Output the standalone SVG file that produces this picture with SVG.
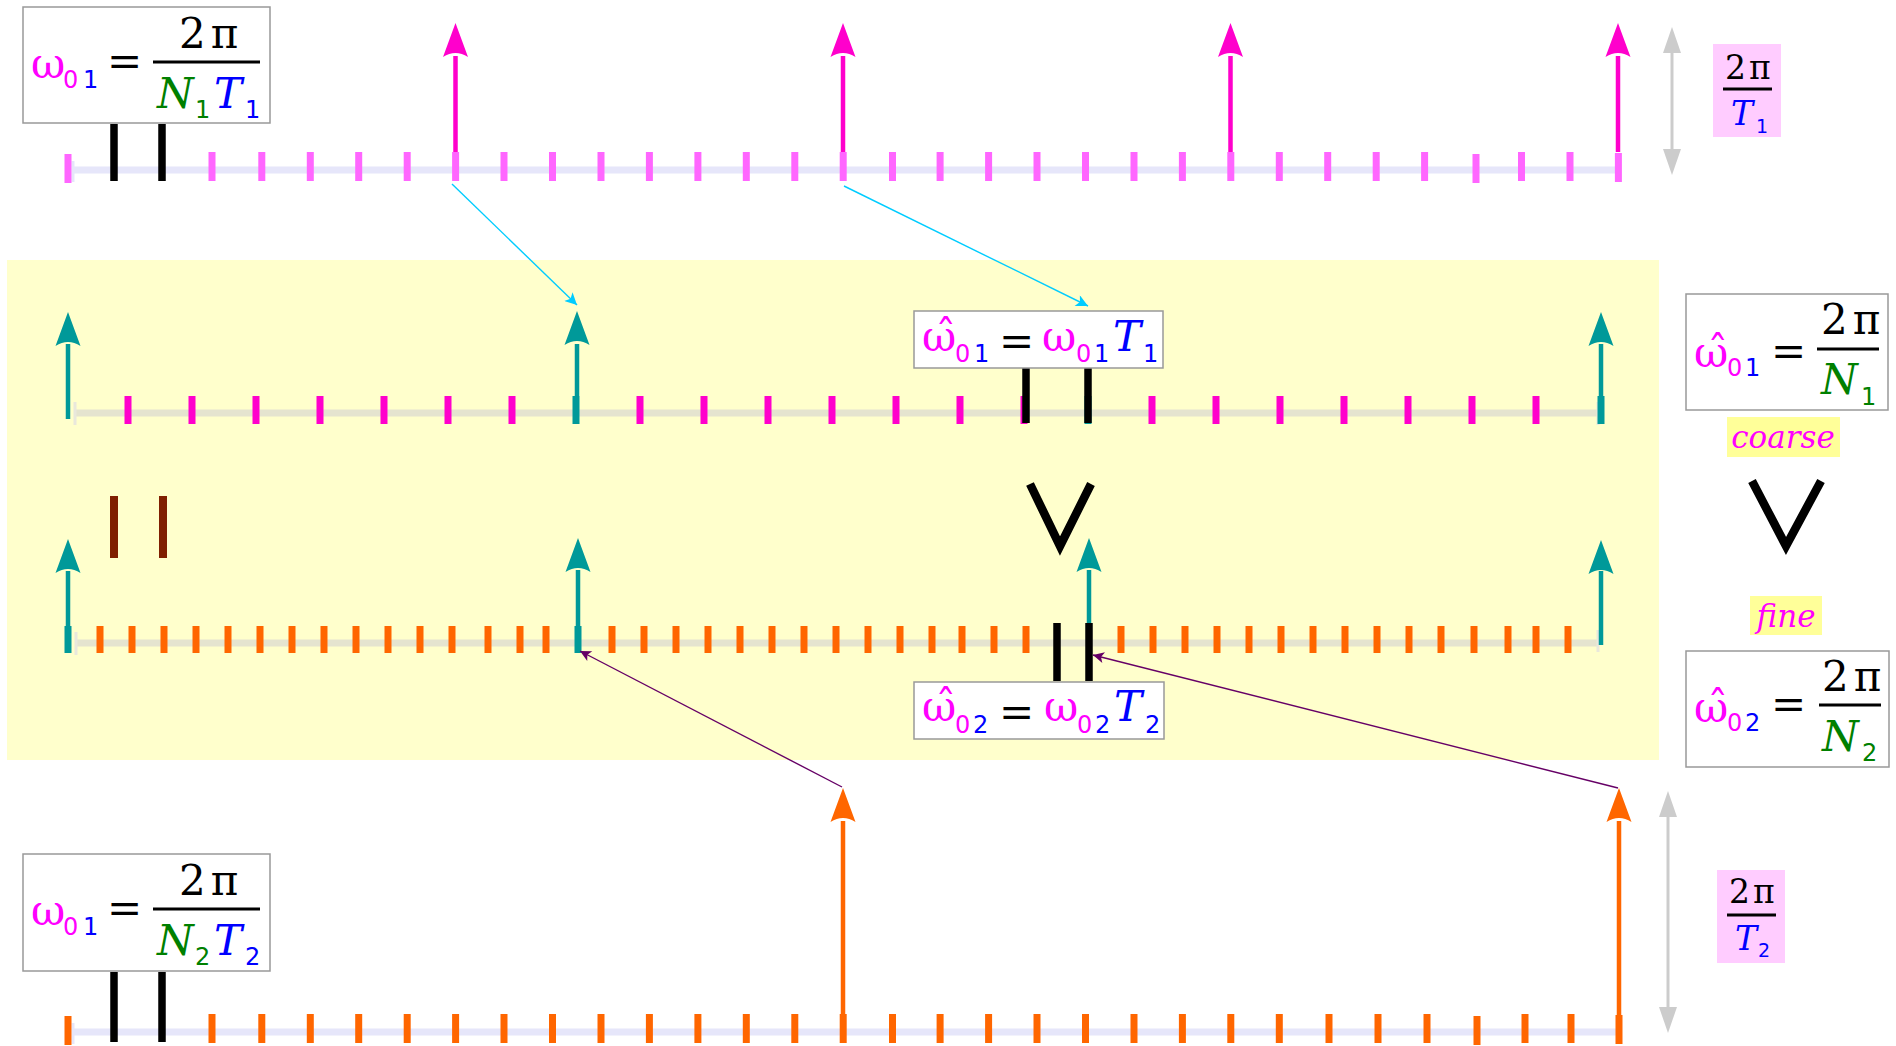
<svg xmlns="http://www.w3.org/2000/svg" xmlns:xlink="http://www.w3.org/1999/xlink" width="1896" height="1046" viewBox="0 0 1896 1046">
  <style>
    .m{font-family:"DejaVu Serif",serif;font-size:42px}
    .mp{font-family:"DejaVu Serif",serif;font-size:33px}
    .it{font-style:italic}
    .s{font-family:"DejaVu Sans",sans-serif;font-size:24px}
    .sp{font-family:"DejaVu Sans",sans-serif;font-size:19px}
    .lbl{font-family:"DejaVu Serif",serif;font-size:31px;font-style:italic;fill:#ff00ff}
    .pk{fill:#ff00ff}.bl{fill:#0000ff}.gr{fill:#008000}.bk{fill:#000}
    .box{fill:#fff;stroke:#999;stroke-width:1.5}
    .bar{stroke:#000;stroke-width:3}
    .axL{stroke:#e6e6fa;stroke-width:7;fill:none}
    .axY{stroke:#e5e4cf;stroke-width:7;fill:none}
    .capL{stroke:#e6e6fa;stroke-width:3;fill:none}
    .capY{stroke:#e9e8dc;stroke-width:3;fill:none}
    .t1{stroke:#ff66ff;stroke-width:7;fill:none}
    .t2{stroke:#ff00cc;stroke-width:7;fill:none}
    .to{stroke:#ff6600;stroke-width:7;fill:none}
    .tt{stroke:#009999;stroke-width:7;fill:none}
    .blk{stroke:#000;stroke-width:7.5;fill:none}
    .brn{stroke:#7f1f00;stroke-width:8;fill:none}
    .sh{stroke-width:4.5;fill:none}
    .vee{stroke:#000;stroke-width:8.5;fill:none;stroke-linejoin:miter}
    .grey{stroke:#cccccc;stroke-width:3;fill:none}
    .cy{stroke:#00ccff;stroke-width:1.4;fill:none;marker-end:url(#mcy)}
    .pu{stroke:#660066;stroke-width:1.4;fill:none;marker-end:url(#mpu)}
  </style>
  <defs>
    <!-- upward arrowhead with concave back, tip at origin -->
    <path id="hd" d="M0,0 L12.5,34 Q0,26 -12.5,34 Z"/>
    <!-- plain triangle head for the range arrows -->
    <path id="gh" d="M0,0 L9,26 L-9,26 Z" fill="#cccccc"/>
    <marker id="mcy" viewBox="0 0 10 10" refX="10" refY="5" markerWidth="17" markerHeight="12" markerUnits="userSpaceOnUse" orient="auto">
      <path d="M0,0 L10,5 L0,10 L2.5,5 Z" fill="#00ccff"/>
    </marker>
    <marker id="mpu" viewBox="0 0 10 10" refX="10" refY="5" markerWidth="15" markerHeight="11" markerUnits="userSpaceOnUse" orient="auto">
      <path d="M0,0 L10,5 L0,10 L2.5,5 Z" fill="#660066"/>
    </marker>
  </defs>

  <rect width="1896" height="1046" fill="#fff"/>
  <!-- shaded band holding the two normalised axes -->
  <rect id="band" x="7" y="260" width="1652" height="500" fill="#ffffcc"/>

  <!-- axis 1: spacing 2pi/(N1 T1) -->
  <g id="axis1">
    <path class="axL" d="M72,170H1618"/>
    <path class="capL" d="M73,161V182"/>
    <path class="t1" d="M68,154v29M212,152v29M261.8,152v29M310.3,152v29M358.7,152v29M407.2,152v29M455.6,152v29M504,152v29M552.5,152v29M601,152v29M649.4,152v29M697.9,152v29M746.3,152v29M794.8,152v29M843.2,152v29M892.5,152v29M940.1,152v29M988.6,152v29M1037,152v29M1085.5,152v29M1134,152v29M1182.4,152v29M1230.8,152v29M1279.3,152v29M1327.7,152v29M1376.2,152v29M1424.6,152v29M1476,154v29M1521.5,152v29M1570,152v29M1618.4,153v29"/>
    <path class="blk" d="M114,124V181M162,124V181"/>
    <g fill="#ff00cc">
      <path class="sh" stroke="#ff00cc" d="M455.5,152V56M843,152V56M1230.5,152V56M1618,152V56"/>
      <use xlink:href="#hd" x="455.5" y="23"/>
      <use xlink:href="#hd" x="843" y="23"/>
      <use xlink:href="#hd" x="1230.5" y="23"/>
      <use xlink:href="#hd" x="1618" y="23"/>
    </g>
  </g>

  <!-- axis 2: normalised, coarse grid 2pi/N1 -->
  <g id="axis2">
    <path class="axY" d="M75,413H1598"/>
    <path class="capY" d="M75,402V425M1598,402V425"/>
    <path class="t2" d="M128,396v28M192,396v28M256,396v28M320,396v28M384,396v28M448,396v28M512,396v28M640,396v28M704,396v28M768,396v28M832,396v28M896,396v28M960,396v28M1024,396v28M1152,396v28M1216,396v28M1280,396v28M1344,396v28M1408,396v28M1472,396v28M1536,396v28"/>
    <path class="tt" d="M576,396v28M1088,396v28M1601,396v28"/>
    <path class="blk" d="M1026,368V423M1088,368V423"/>
    <g fill="#009999">
      <path class="sh" stroke="#009999" d="M68,419V344M577,396V344M1601,396V344"/>
      <use xlink:href="#hd" x="68" y="312"/>
      <use xlink:href="#hd" x="577" y="311"/>
      <use xlink:href="#hd" x="1601" y="312"/>
    </g>
  </g>

  <!-- axis 3: normalised, fine grid 2pi/N2 -->
  <g id="axis3">
    <path class="axY" d="M76,643H1598"/>
    <path class="capY" d="M76,632V655M1598,630V652"/>
    <path class="to" d="M100,626v27M132,626v27M164,626v27M196,626v27M228,626v27M260,626v27M292,626v27M324,626v27M356,626v27M388,626v27M420,626v27M452,626v27M488,626v27M520,626v27M546,626v27M612,626v27M644,626v27M676,626v27M708,626v27M740,626v27M772,626v27M804,626v27M836,626v27M868,626v27M900,626v27M932,626v27M962,626v27M994,626v27M1026,626v27M1121,626v27M1153,626v27M1185,626v27M1217,626v27M1249,626v27M1281,626v27M1313,626v27M1345,626v27M1377,626v27M1409,626v27M1441,626v27M1474,626v27M1508,626v27M1536,626v27M1568,626v27"/>
    <path class="tt" d="M68,626v27M578,626v27"/>
    <path class="brn" d="M114,496V558M163,496V558"/>
    <path class="blk" d="M1057,623V681M1089,623V681"/>
    <g fill="#009999">
      <path class="sh" stroke="#009999" d="M68,626V571M578,626V570M1089,623V570M1601,645V571"/>
      <use xlink:href="#hd" x="68" y="539"/>
      <use xlink:href="#hd" x="578" y="538"/>
      <use xlink:href="#hd" x="1089" y="538"/>
      <use xlink:href="#hd" x="1601" y="540"/>
    </g>
  </g>

  <!-- axis 4: spacing 2pi/(N2 T2) -->
  <g id="axis4">
    <path class="axL" d="M72,1032H1618"/>
    <path class="capL" d="M73,1023V1044"/>
    <path class="to" d="M68,1016v29M212,1014v29M261.8,1014v29M310.3,1014v29M358.7,1014v29M407.2,1014v29M455.6,1014v29M504,1014v29M552.5,1014v29M601,1014v29M649.4,1014v29M697.9,1014v29M746.3,1014v29M794.8,1014v29M843.2,1014v29M892.5,1014v29M940.1,1014v29M988.6,1014v29M1037,1014v29M1085.5,1014v29M1134,1014v29M1182.4,1014v29M1230.8,1014v29M1279.3,1014v29M1329,1014v29M1378,1014v29M1427,1014v29M1477,1016v29M1525,1014v29M1571,1014v29M1619,1015v29"/>
    <path class="blk" d="M114,972V1042M162,972V1042"/>
    <g fill="#ff6600">
      <path class="sh" stroke="#ff6600" d="M843,1015V821M1619,1015V821"/>
      <use xlink:href="#hd" x="843" y="788"/>
      <use xlink:href="#hd" x="1619" y="788"/>
    </g>
  </g>

  <!-- range arrows -->
  <g id="range1">
    <path class="grey" d="M1672,50V152"/>
    <use xlink:href="#gh" x="1672" y="27"/>
    <use xlink:href="#gh" transform="translate(1672,175) rotate(180)"/>
  </g>
  <g id="range2">
    <path class="grey" d="M1668,815V1010"/>
    <use xlink:href="#gh" x="1668" y="791"/>
    <use xlink:href="#gh" transform="translate(1668,1033) rotate(180)"/>
  </g>

  <!-- inequality marks -->
  <g id="vee-mid"><polyline class="vee" points="1030,484 1060,546 1091,484"/></g>
  <g id="vee-right"><polyline class="vee" points="1752,481 1786,546 1821,481"/></g>

  <!-- connectors -->
  <g id="connectors">
    <path class="cy" d="M452,184L577,305"/>
    <path class="cy" d="M844,186L1088,306"/>
    <path class="pu" d="M842,787L580,651"/>
    <path class="pu" d="M1618,788L1093,655"/>
  </g>

  <!-- w01 = 2pi/(N1 T1) -->
  <g id="eqA">
    <rect class="box" x="23" y="7" width="247" height="116"/>
    <text class="m pk" x="31" y="78">ω</text>
    <text class="s pk" x="63" y="88">0</text><text class="s bl" x="83" y="88">1</text>
    <text class="m bk" x="107" y="76">=</text>
    <line class="bar" x1="153" y1="62" x2="260" y2="62"/>
    <text class="m bk" x="179" y="48">2<tspan dx="5">π</tspan></text>
    <text class="m it gr" x="157" y="108">N</text><text class="s gr" x="195" y="118">1</text>
    <text class="m it bl" x="214" y="108">T</text><text class="s bl" x="245" y="118">1</text>
  </g>

  <!-- w01 = 2pi/(N2 T2) -->
  <g id="eqF">
    <rect class="box" x="23" y="854" width="247" height="117"/>
    <text class="m pk" x="31" y="925">ω</text>
    <text class="s pk" x="63" y="935">0</text><text class="s bl" x="83" y="935">1</text>
    <text class="m bk" x="107" y="923">=</text>
    <line class="bar" x1="153" y1="909" x2="260" y2="909"/>
    <text class="m bk" x="179" y="895">2<tspan dx="5">π</tspan></text>
    <text class="m it gr" x="157" y="955">N</text><text class="s gr" x="195" y="965">2</text>
    <text class="m it bl" x="214" y="955">T</text><text class="s bl" x="245" y="965">2</text>
  </g>

  <!-- w^01 = w01 T1 -->
  <g id="eqB">
    <rect class="box" x="914" y="311" width="249" height="57"/>
    <text class="m pk" x="922" y="351">ω̂</text>
    <text class="s pk" x="955" y="362">0</text><text class="s bl" x="974" y="362">1</text>
    <text class="m bk" x="999" y="356">=</text>
    <text class="m pk" x="1042" y="351">ω</text>
    <text class="s pk" x="1076" y="362">0</text><text class="s bl" x="1094" y="362">1</text>
    <text class="m it bl" x="1113" y="351">T</text><text class="s bl" x="1143" y="362">1</text>
  </g>

  <!-- w^02 = w02 T2 -->
  <g id="eqC">
    <rect class="box" x="914" y="682" width="250" height="57"/>
    <text class="m pk" x="922" y="721">ω̂</text>
    <text class="s pk" x="955" y="733">0</text><text class="s bl" x="973" y="733">2</text>
    <text class="m bk" x="999" y="727">=</text>
    <text class="m pk" x="1044" y="721">ω</text>
    <text class="s pk" x="1077" y="733">0</text><text class="s bl" x="1095" y="733">2</text>
    <text class="m it bl" x="1114" y="721">T</text><text class="s bl" x="1145" y="733">2</text>
  </g>

  <!-- w^01 = 2pi/N1 -->
  <g id="eqD">
    <rect class="box" x="1686" y="294" width="202" height="116"/>
    <text class="m pk" x="1694" y="367">ω̂</text>
    <text class="s pk" x="1727" y="376">0</text><text class="s bl" x="1745" y="376">1</text>
    <text class="m bk" x="1771" y="366">=</text>
    <line class="bar" x1="1817" y1="349" x2="1879" y2="349"/>
    <text class="m bk" x="1821" y="334">2<tspan dx="5">π</tspan></text>
    <text class="m it gr" x="1821" y="394">N</text><text class="s gr" x="1861" y="405">1</text>
  </g>

  <!-- coarse / fine tags -->
  <g id="tag-coarse">
    <rect x="1727" y="417" width="113" height="40" fill="#ffff99"/>
    <text class="lbl" x="1783" y="448" text-anchor="middle">coarse</text>
  </g>
  <g id="tag-fine">
    <rect x="1750" y="596" width="72" height="39" fill="#ffff99"/>
    <text class="lbl" x="1786" y="627" text-anchor="middle">fine</text>
  </g>

  <!-- w^02 = 2pi/N2 -->
  <g id="eqE">
    <rect class="box" x="1686" y="651" width="203" height="116"/>
    <text class="m pk" x="1694" y="722">ω̂</text>
    <text class="s pk" x="1727" y="731">0</text><text class="s bl" x="1745" y="731">2</text>
    <text class="m bk" x="1771" y="719">=</text>
    <line class="bar" x1="1819" y1="705" x2="1881" y2="705"/>
    <text class="m bk" x="1822" y="691">2<tspan dx="5">π</tspan></text>
    <text class="m it gr" x="1822" y="751">N</text><text class="s gr" x="1862" y="761">2</text>
  </g>

  <!-- 2pi/T1 -->
  <g id="periodT1">
    <rect x="1713" y="44" width="68" height="93" fill="#ffccff"/>
    <text class="mp bk" x="1725" y="79">2<tspan dx="3">π</tspan></text>
    <line class="bar" x1="1723" y1="89" x2="1772" y2="89" stroke-width="2.5"/>
    <text class="mp it bl" x="1731" y="125">T</text><text class="sp bl" x="1756" y="133">1</text>
  </g>

  <!-- 2pi/T2 -->
  <g id="periodT2">
    <rect x="1717" y="870" width="68" height="93" fill="#ffccff"/>
    <text class="mp bk" x="1729" y="903">2<tspan dx="3">π</tspan></text>
    <line class="bar" x1="1727" y1="915" x2="1776" y2="915" stroke-width="2.5"/>
    <text class="mp it bl" x="1735" y="950">T</text><text class="sp bl" x="1758" y="957">2</text>
  </g>
</svg>
